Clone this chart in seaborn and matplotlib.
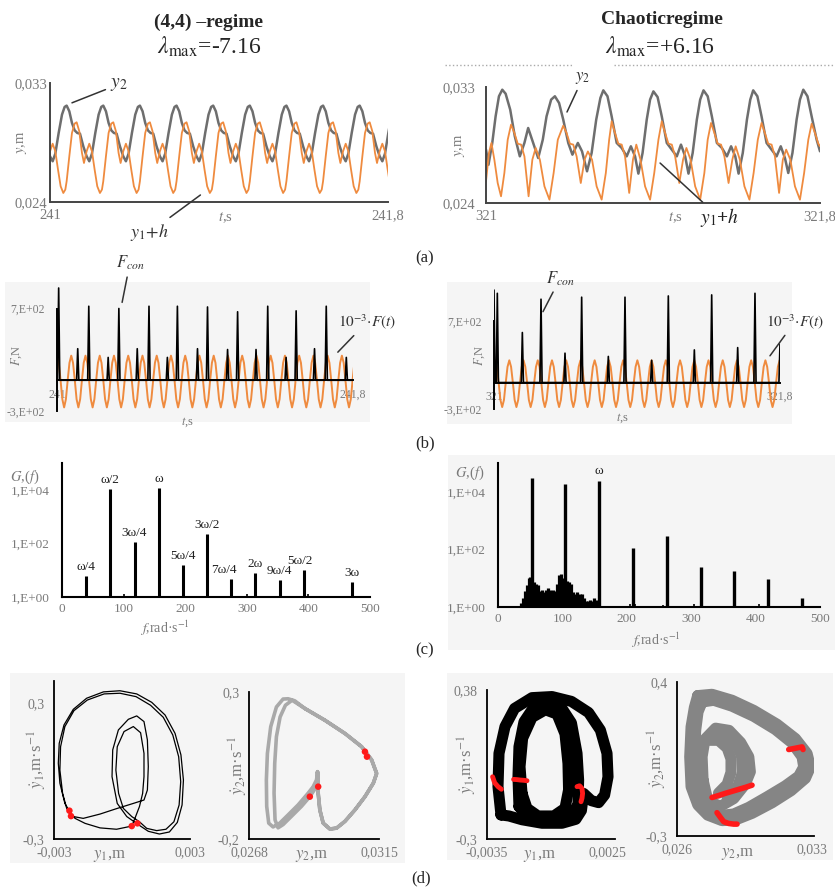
import numpy as np
import matplotlib
matplotlib.use("Agg")
import matplotlib.pyplot as plt
from matplotlib.lines import Line2D
from matplotlib.patches import Rectangle
from matplotlib.ticker import NullLocator
import seaborn as sns

sns.set_theme(style="white")
plt.rcParams["font.family"] = ["Liberation Serif", "DejaVu Serif"]
plt.rcParams["mathtext.fontset"] = "stix"

W, H = 835, 888
GREY = "#7a7a7a"
ORANGE = "#ef8b3f"
BOX = "#f5f5f5"

# %% (a) displacements --------------------------------------------------------
# (4,4) regime is periodic: one period, repeated
a4_t0 = 241.0394          # first maximum of y2
a4_period = 0.0867
a4_y2_phase = [0, .073, .145, .218, .291, .364, .455, .545, .618, .691, .782, .873, .945]
a4_y2 = [0.03129, 0.03086, 0.02998, 0.02942, 0.02922, 0.02917, 0.02821,
         0.02746, 0.02708, 0.02766, 0.02922, 0.03061, 0.03119]
a4_y1h_phase = [0, .073, .145, .218, .273, .345, .418, .473, .545, .618, .691,
                .764, .836, .909, .964]
a4_y1h = [0.02557, 0.02746, 0.02922, 0.02993, 0.03003, 0.02935, 0.02771, 0.02695,
          0.02783, 0.02841, 0.02783, 0.02645, 0.02519, 0.02468, 0.02494]

# chaotic regime
ch_t_y2 = [321.000, 321.006, 321.015, 321.023, 321.031,
           321.039, 321.047, 321.058, 321.069, 321.081, 321.092, 321.101, 321.113, 321.125, 321.136, 321.145, 321.156,
           321.165, 321.175, 321.185, 321.197, 321.207, 321.220, 321.230, 321.242, 321.253, 321.264, 321.274,
           321.281, 321.291, 321.301, 321.313, 321.325, 321.337, 321.347, 321.357, 321.365, 321.375, 321.385, 321.393,
           321.401, 321.411, 321.421, 321.433, 321.445, 321.457, 321.467, 321.477, 321.485, 321.495, 321.505, 321.513,
           321.521, 321.531, 321.541, 321.553, 321.565, 321.577, 321.587, 321.597, 321.605, 321.615, 321.625, 321.633,
           321.640, 321.650, 321.660, 321.672, 321.684, 321.696, 321.706, 321.716, 321.724, 321.734, 321.744, 321.752,
           321.760, 321.770, 321.780, 321.792, 321.800]
ch_y2 = [0.02814, 0.02697, 0.02866, 0.03072, 0.03228,
         0.03279, 0.03248, 0.03124, 0.02917, 0.02762, 0.02866, 0.02982, 0.02866, 0.02749, 0.02891, 0.03072, 0.03202,
         0.03228, 0.03176, 0.03047, 0.02866, 0.02775, 0.02866, 0.02801, 0.02646, 0.02788, 0.03047, 0.03215,
         0.03274, 0.03228, 0.03072, 0.02866, 0.02827, 0.02762, 0.02840, 0.02762, 0.02628, 0.02788, 0.03047, 0.03202,
         0.03266, 0.03222, 0.03072, 0.02866, 0.02814, 0.02762, 0.02853, 0.02762, 0.02628, 0.02788, 0.03047, 0.03202,
         0.03274, 0.03228, 0.03072, 0.02866, 0.02827, 0.02762, 0.02840, 0.02762, 0.02628, 0.02788, 0.03047, 0.03202,
         0.03274, 0.03228, 0.03072, 0.02866, 0.02814, 0.02762, 0.02840, 0.02749, 0.02633, 0.02788, 0.03047, 0.03202,
         0.03279, 0.03228, 0.03072, 0.02891, 0.02801]
ch_t_y1h = [321.000, 321.007, 321.013, 321.020, 321.028, 321.036, 321.044, 321.052,
            321.060, 321.068, 321.076, 321.084, 321.092, 321.102, 321.111, 321.119, 321.129, 321.140, 321.152, 321.162, 321.172,
            321.185, 321.193, 321.201, 321.209, 321.217, 321.227, 321.236, 321.244, 321.254, 321.265, 321.277, 321.287, 321.295,
            321.301, 321.309, 321.317, 321.325, 321.333, 321.343, 321.352, 321.360, 321.370, 321.381, 321.393, 321.403, 321.413,
            321.421, 321.429, 321.437, 321.445, 321.453, 321.463, 321.472, 321.480, 321.490, 321.501, 321.513, 321.523, 321.531,
            321.539, 321.547, 321.555, 321.563, 321.571, 321.581, 321.590, 321.598, 321.608, 321.619, 321.631, 321.641, 321.651,
            321.660, 321.668, 321.676, 321.684, 321.692, 321.702, 321.711, 321.719, 321.729, 321.740, 321.752, 321.762, 321.772,
            321.780, 321.788, 321.796, 321.800]
ch_y1h = [0.02568, 0.02788, 0.02866, 0.02736, 0.02555, 0.02452, 0.02633, 0.02891,
          0.03008, 0.02943, 0.02860, 0.02853, 0.02762, 0.02452, 0.02736, 0.02827, 0.02736, 0.02529, 0.02426, 0.02633, 0.02891,
          0.03000, 0.02943, 0.02860, 0.02853, 0.02762, 0.02555, 0.02736, 0.02800, 0.02736, 0.02529, 0.02426, 0.02633, 0.02891,
          0.03034, 0.02943, 0.02860, 0.02853, 0.02762, 0.02478, 0.02736, 0.02853, 0.02736, 0.02529, 0.02426, 0.02633, 0.02891,
          0.03034, 0.02943, 0.02860, 0.02853, 0.02762, 0.02555, 0.02736, 0.02827, 0.02736, 0.02529, 0.02426, 0.02633, 0.02891,
          0.03021, 0.02943, 0.02860, 0.02853, 0.02762, 0.02555, 0.02736, 0.02840, 0.02736, 0.02529, 0.02426, 0.02633, 0.02891,
          0.03021, 0.02943, 0.02860, 0.02853, 0.02762, 0.02478, 0.02736, 0.02814, 0.02736, 0.02529, 0.02426, 0.02633, 0.02891,
          0.03015, 0.02943, 0.02860, 0.02840]

# %% (b) forces ---------------------------------------------------------------
F_phase = [0, .125, .25, .375, .5, .625, .75, .875]
b4_F_t0, b4_F_period = 241.0, 0.0385
b4_F_cycle = [240, 170, 0, -185, -265, -185, 0, 170]          # 1e-3 F(t), N
b4_con_t = [241.0045, 241.0560, 241.0859, 241.1383, 241.1672, 241.2169, 241.2486, 241.2983,
            241.3254, 241.3797, 241.4068, 241.4610, 241.4881, 241.5379, 241.5695, 241.6192,
            241.6463, 241.6960, 241.7277, 241.7819]
b4_con_h = [900, 308, 722, 223, 700, 308, 722, 223, 722, 308, 715, 300, 668, 300, 722, 223,
            677, 308, 722, 223]

bch_F_t0, bch_F_period = 321.003, 0.0398
bch_F_cycle = [252, 178, 0, -197, -278, -197, 0, 178]
bch_con_t = [321.000, 321.0093, 321.0793, 321.1315, 321.1986, 321.2452, 321.3198, 321.3664,
             321.4410, 321.4876, 321.5604, 321.6089, 321.6816, 321.7300, 321.8000]
bch_con_h = [1048, 1011, 567, 944, 333, 967, 296, 967, 252, 981, 370, 993, 396, 1011, 437]

# %% (c) spectra --------------------------------------------------------------
c4_f = [39.25, 78.5, 117.75, 157, 196.25, 235.5, 274.75, 314, 353.25, 392.5, 471]
c4_g = [6, 11000, 115, 12000, 16, 230, 4.7, 8, 4.4, 10, 3.6]
c4_lab = ["ω/4", "ω/2", "3ω/4", "ω", "5ω/4", "3ω/2", "7ω/4", "2ω", "9ω/4", "5ω/2", "3ω"]
c4_small_f = [100, 300, 400]
c4_small_g = [1.25, 1.25, 1.25]

cch_f = [53, 104, 157, 210, 262, 315, 367, 419, 472]
cch_g = [30900, 19000, 24000, 112, 295, 24.5, 17.8, 9.3, 2.0]
cch_small_f = [205, 213, 256, 305, 405]
cch_small_g = [1.25, 1.3, 1.15, 1.3, 1.3]
cch_band_f = [36, 39, 42, 45, 48, 50, 56, 59, 62, 65, 68, 71, 74, 77, 80, 83, 86, 89, 92, 95, 98, 101,
              107, 110, 113, 116, 119, 122, 125, 128, 131, 134, 137, 140, 143, 146, 149, 152, 155]
cch_band_g = [1.4, 2.0, 3.5, 5.6, 10, 11, 7.1, 6.3, 5.6, 3.5, 4.0, 3.2, 4.0, 4.5, 4.0, 3.2, 4.0, 3.5, 6.3, 12.6, 14, 10,
              8, 7.1, 6.3, 3.2, 2.8, 3.2, 2.2, 2.8, 2.8, 2.0, 1.6, 1.6, 1.8, 1.6, 2.0, 1.8, 1.6]

# %% (d) phase portraits ------------------------------------------------------
d1_y1 = [-0.00222, -0.00252, -0.00274, -0.00281, -0.00277, -0.00256, -0.00215, -0.00156, -0.00082, -0.00009,
         0.00065, 0.00131, 0.00190, 0.00234, 0.00260, 0.00271, 0.00265, 0.00244, 0.00209, 0.00165, 0.00116, 0.00068,
         0.00021, -0.00021, -0.00044, -0.00041, -0.00016, 0.00028, 0.00065, 0.00097, 0.00112, 0.00116, 0.00112, 0.00097,
         0.00050, -0.00024, -0.00097, -0.00171, -0.00225,
         -0.00244, -0.00262, -0.00274, -0.00271, -0.00252, -0.00212, -0.00153, -0.00079, -0.00009, 0.00062, 0.00126,
         0.00182, 0.00224, 0.00250, 0.00259, 0.00252, 0.00229, 0.00194, 0.00153, 0.00109, 0.00077,
         0.00043, 0.00006, -0.00015, -0.00027, -0.00021, 0.00009, 0.00050, 0.00082, 0.00097, 0.00097, 0.00091, 0.00077,
         0.00057, 0.00043,
         -0.00024, -0.00097, -0.00163, -0.00207, -0.00222]
d1_v1 = [-0.194, -0.143, -0.054, 0.034, 0.122, 0.203, 0.272, 0.321, 0.349, 0.354,
         0.340, 0.303, 0.247, 0.166, 0.071, -0.040, -0.150, -0.227, -0.269, -0.278, -0.266, -0.234,
         -0.201, -0.143, -0.025, 0.093, 0.181, 0.228, 0.243, 0.218, 0.137, 0.019, -0.084, -0.128,
         -0.143, -0.166, -0.190, -0.209, -0.199,
         -0.165, -0.099, 0.004, 0.107, 0.196, 0.266, 0.313, 0.340, 0.343, 0.328, 0.290,
         0.237, 0.159, 0.063, -0.047, -0.150, -0.224, -0.257, -0.263, -0.253, -0.224,
         -0.201, -0.165, -0.099, 0.004, 0.107, 0.174, 0.196, 0.169, 0.078, -0.025, -0.099, -0.157,
         -0.209, -0.243,
         -0.257, -0.251, -0.231, -0.209, -0.194]
d1_dot_y1 = [-0.00232, -0.00225, 0.00043, 0.00068]
d1_dot_v1 = [-0.175, -0.199, -0.243, -0.231]

d2_y2 = [0.028818, 0.029543, 0.030268, 0.030872, 0.031234, 0.031415, 0.031295, 0.030992, 0.030630, 0.030268,
         0.029965, 0.029724, 0.029482, 0.029361, 0.029301, 0.029301, 0.029277, 0.029241, 0.029120, 0.028939,
         0.028576, 0.028214, 0.027912, 0.027670, 0.027513, 0.027440, 0.027428, 0.027465, 0.027585, 0.027791,
         0.028032, 0.028214, 0.028455,
         0.028818, 0.029543, 0.030268, 0.030872, 0.031234, 0.031415, 0.031295, 0.030992, 0.030630, 0.030268,
         0.029965, 0.029724, 0.029482, 0.029361, 0.029301, 0.029301, 0.029277, 0.029277, 0.029204, 0.028999,
         0.028697, 0.028334, 0.028032, 0.027851, 0.027742, 0.027706, 0.027730, 0.027791, 0.027924, 0.028117,
         0.028359, 0.028818]
d2_v2 = [0.244, 0.204, 0.159, 0.114, 0.069, 0.023, -0.010, -0.056, -0.101, -0.140,
         -0.163, -0.166, -0.146, -0.101, -0.044, 0.012, 0.029, 0.001, -0.022, -0.044,
         -0.084, -0.118, -0.146, -0.159, -0.146, -0.089, 0.001, 0.091, 0.182, 0.249,
         0.276, 0.277, 0.270,
         0.244, 0.204, 0.159, 0.114, 0.069, 0.023, -0.010, -0.056, -0.101, -0.140,
         -0.163, -0.166, -0.146, -0.101, -0.044, 0.012, 0.029, 0.001, -0.027, -0.056,
         -0.089, -0.123, -0.151, -0.162, -0.135, -0.044, 0.057, 0.148, 0.215, 0.255,
         0.272, 0.244]
d2_dot_y2 = [0.030992, 0.031065, 0.029301, 0.028999]
d2_dot_v2 = [0.097, 0.080, -0.022, -0.056]

# chaotic attractors, drawn as a few thick nested bands
d3_loop = [0] * 23 + [1] * 16 + [2] * 14
d3_y1 = [-0.00280, -0.00295, -0.00290, -0.00260, -0.00212, -0.00125, -0.00025, 0.00072, 0.00158, 0.00217, 0.00250,
         0.00255, 0.00238, 0.00208, 0.00172, 0.00133, 0.00122, 0.00094, 0.00025, -0.00075, -0.00175, -0.00240, -0.00280,
         -0.00190, -0.00195, -0.00190, -0.00165, -0.00117, -0.00050, 0.00022, 0.00072, 0.00100, 0.00108, 0.00105,
         0.00075, -0.00016, -0.00108, -0.00165, -0.00190,
         -0.00175, -0.00185, -0.00172, -0.00125, -0.00058, 0.00000, 0.00040, 0.00055, 0.00058, 0.00040, -0.00016,
         -0.00095, -0.00150, -0.00175]
d3_v1 = [-0.190, -0.061, 0.091, 0.213, 0.296, 0.345, 0.350, 0.328, 0.277, 0.197, 0.091,
         -0.016, -0.099, -0.134, -0.125, -0.092, -0.170, -0.210, -0.228, -0.228, -0.212, -0.195, -0.190,
         -0.152, -0.016, 0.121, 0.235, 0.300, 0.322, 0.300, 0.230, 0.091, -0.031, -0.140,
         -0.190, -0.205, -0.200, -0.180, -0.152,
         -0.092, 0.030, 0.160, 0.255, 0.290, 0.270, 0.180, 0.045, -0.076, -0.160, -0.195,
         -0.195, -0.160, -0.092]
d3_red_grp = [0] * 4 + [1] * 5 + [2] * 6
d3_red_y1 = [-0.00322, -0.00312, -0.00295, -0.00278, -0.00217, -0.00200, -0.00183, -0.00167, -0.00150,
             0.00100, 0.00113, 0.00125, 0.00128, 0.00125, 0.00120]
d3_red_v1 = [-0.016, -0.043, -0.061, -0.073, -0.028, -0.029, -0.031, -0.032, -0.034,
             -0.061, -0.057, -0.069, -0.092, -0.114, -0.130]

d4_loop = [0] * 21 + [1] * 21 + [2] * 13 + [3] * 7 + [4] * 7
d4_y2 = [0.027072, 0.027815, 0.028852, 0.029975, 0.031185, 0.032136, 0.032741, 0.032914, 0.032654, 0.031911,
         0.030926, 0.029889, 0.029025, 0.028333, 0.027590, 0.027080, 0.026730, 0.026660, 0.026730, 0.026900, 0.027072,
         0.027296, 0.027901, 0.028852, 0.029975, 0.031099, 0.031963, 0.032482, 0.032568, 0.032309, 0.031617,
         0.030667, 0.029716, 0.028938, 0.028333, 0.027763, 0.027210, 0.026951, 0.026899, 0.026968, 0.027089, 0.027296,
         0.027350, 0.027300, 0.027450, 0.028000, 0.028700, 0.029300, 0.029720, 0.029800, 0.029540, 0.028940,
         0.028250, 0.027600, 0.027350,
         0.027850, 0.028500, 0.029050, 0.029350, 0.029400, 0.029150, 0.028600,
         0.027700, 0.028150, 0.028600, 0.028800, 0.028800, 0.028600, 0.028150]
d4_v2 = [0.338, 0.344, 0.317, 0.271, 0.208, 0.143, 0.075, 0.014, -0.038, -0.094,
         -0.149, -0.197, -0.227, -0.230, -0.205, -0.159, -0.076, 0.060, 0.196, 0.284, 0.338,
         0.309, 0.317, 0.290, 0.244, 0.184, 0.123, 0.060, 0.014, -0.028, -0.072,
         -0.122, -0.170, -0.200, -0.206, -0.185, -0.144, -0.069, 0.060, 0.181, 0.264, 0.309,
         -0.046, 0.060, 0.140, 0.190, 0.180, 0.125, 0.060, -0.008, -0.064, -0.130,
         -0.165, -0.140, -0.046,
         0.170, 0.170, 0.125, 0.060, -0.010, -0.075, -0.125,
         0.135, 0.135, 0.100, 0.050, -0.010, -0.065, -0.105]
d4_red_grp = [0] * 6 + [1] * 7 + [2] * 6
d4_red_y2 = [0.031790, 0.031963, 0.032136, 0.032309, 0.032482, 0.032533,
             0.027815, 0.028160, 0.028506, 0.028852, 0.029198, 0.029543, 0.029889,
             0.028074, 0.028247, 0.028420, 0.028679, 0.028938, 0.029111]
d4_red_v2 = [0.093, 0.096, 0.099, 0.102, 0.105, 0.093,
             -0.125, -0.116, -0.106, -0.097, -0.088, -0.079, -0.069,
             -0.194, -0.215, -0.235, -0.243, -0.246, -0.246]


# %% helpers ------------------------------------------------------------------
def frame(l, t, r, b):
    return [l / W, 1 - b / H, (r - l) / W, (b - t) / H]


def ftext(x, y, s, **kw):
    fig.text(x / W, 1 - y / H, s, ha="center", va="center", **kw)


def repeat_cycle(t0, period, phase, values, first, last):
    t = np.concatenate([t0 + (k + np.asarray(phase)) * period for k in range(first, last)])
    return t, np.tile(values, last - first)


def spikes(t, h, t_start, t_end, w=0.003):
    xs, ys = [t_start], [0]
    for ti, hi in zip(t, h):
        xs += [ti - w, ti, ti + w]
        ys += [0, hi, 0]
    return xs + [t_end], ys + [0]


def style(ax, color="black", lw=1.3, size=10):
    ax.set_facecolor("none")
    ax.grid(False)
    for side in ("top", "right"):
        ax.spines[side].set_visible(False)
    for side in ("left", "bottom"):
        ax.spines[side].set_color(color)
        ax.spines[side].set_linewidth(lw)
    ax.tick_params(direction="in", length=4, width=lw, color=color,
                   labelcolor=GREY, labelsize=size)


def line(ax, x, y, **kw):
    sns.lineplot(x=x, y=y, ax=ax, sort=False, estimator=None, legend=False, **kw)


def labels(ax, xl, xpos, yl, ypos, size=10.5):
    ax.set_xlabel(xl, color=GREY, fontsize=size)
    ax.set_ylabel(yl, color=GREY, fontsize=size)
    ax.xaxis.set_label_coords(*xpos)
    ax.yaxis.set_label_coords(*ypos)
    ax.xaxis.label.set_va("center")
    ax.yaxis.label.set_va("center")


fig = plt.figure(figsize=(W / 100, H / 100), dpi=100)

for l, t, r, b in [(5, 282, 370, 422), (447, 282, 792, 424), (448, 455, 835, 650),
                   (10, 673, 405, 863), (447, 673, 833, 860)]:
    fig.add_artist(Rectangle((l / W, 1 - b / H), (r - l) / W, (b - t) / H,
                             transform=fig.transFigure, color=BOX, lw=0, zorder=-5))
for x0, x1 in [(445, 573), (614, 835)]:
    fig.add_artist(Line2D([x0 / W, x1 / W], [1 - 65 / H] * 2, transform=fig.transFigure,
                          color="#aaaaaa", ls=":", lw=1))

ftext(209, 22, "(4,4) –regime", fontsize=14, fontweight="bold")
ftext(209, 47, r"$\lambda_{\mathrm{max}}$=-7.16", fontsize=17)
ftext(662, 20, "Chaoticregime", fontsize=14, fontweight="bold")
ftext(660, 47, r"$\lambda_{\mathrm{max}}$=+6.16", fontsize=17)
for s, x, y in [("(a)", 425, 258), ("(b)", 425, 443), ("(c)", 425, 650), ("(d)", 421, 878)]:
    ftext(x, y, s, fontsize=12)

ann_line = dict(arrowstyle="-", color="#333333", lw=1.1, shrinkA=1, shrinkB=0)

# %% row (a) ------------------------------------------------------------------
ax = fig.add_axes(frame(50, 83, 388, 202))
t, v = repeat_cycle(a4_t0, a4_period, a4_y2_phase, a4_y2, -1, 10)
line(ax, t, v, color="#6e6e6e", linewidth=1.8)
t, v = repeat_cycle(a4_t0, a4_period, a4_y1h_phase, a4_y1h, -1, 10)
line(ax, t, v, color=ORANGE, linewidth=1.3)
ax.set_xlim(241, 241.8)
ax.set_ylim(0.024, 0.033)
ax.set_xticks([241, 241.8], ["241", "241,8"])
ax.set_yticks([0.024, 0.033], ["0,024", "0,033"])
style(ax, color="#444444", lw=1.4, size=10.5)
ax.tick_params(axis="x", pad=5)
ax.tick_params(axis="y", pad=2)
labels(ax, r"$t$,s", (0.518, -0.134), r"$y$,m", (-0.083, 0.5))
ax.annotate(r"$y_2$", xy=(241.052, 0.0315), xytext=(241.163, 0.0329), fontsize=14,
            color="#333333", ha="center", va="center", arrowprops=ann_line, annotation_clip=False)
ax.annotate(r"$y_1\!+\!h$", xy=(241.356, 0.02453), xytext=(241.237, 0.02173), fontsize=13,
            color="#333333", ha="center", va="center", arrowprops=ann_line, annotation_clip=False)

ax = fig.add_axes(frame(486, 87, 820, 203))
line(ax, ch_t_y2, ch_y2, color="#6e6e6e", linewidth=1.8)
line(ax, ch_t_y1h, ch_y1h, color=ORANGE, linewidth=1.3)
ax.set_xlim(321, 321.8)
ax.set_ylim(0.024, 0.033)
ax.set_xticks([321, 321.8], ["321", "321,8"])
ax.set_yticks([0.024, 0.033], ["0,024", "0,033"])
style(ax, color="#444444", lw=1.4, size=10.5)
ax.tick_params(axis="x", pad=5)
ax.tick_params(axis="y", pad=8)
labels(ax, r"$t$,s", (0.566, -0.13), r"$y$,m", (-0.078, 0.5))
ax.annotate(r"$y_2$", xy=(321.194, 0.03106), xytext=(321.232, 0.0337), fontsize=12,
            color="#333333", ha="center", va="center", arrowprops=ann_line, annotation_clip=False)
ax.annotate(r"$y_1$+$h$", xy=(321.417, 0.0271), xytext=(321.560, 0.02284), fontsize=14,
            color="#222222", ha="center", va="center", fontweight="bold",
            arrowprops=ann_line, annotation_clip=False)

# %% row (b) ------------------------------------------------------------------
panels_b = [
    (frame(57, 287, 353, 411), b4_F_t0, b4_F_period, b4_F_cycle, b4_con_t, b4_con_h,
     (241, 241.8), ["241", "241,8"], 910, (0.44, -0.09), (-0.135, 0.45),
     ((241.176, 760), (241.197, 1142)), ((241.759, 274), (241.838, 570)), 21),
    (frame(494, 289, 780, 409), bch_F_t0, bch_F_period, bch_F_cycle, bch_con_t, bch_con_h,
     (321, 321.8), ["321", "321,8"], 1060, (0.45, -0.075), (-0.05, 0.45),
     ((321.137, 803), (321.185, 1181)), ((321.772, 303), (321.842, 692)), 21),
]
for rect, f0, fp, fc, ct, chh, xl, xtl, ytop, xlab, ylab, a_con, a_F, ncyc in panels_b:
    ax = fig.add_axes(rect)
    t, v = repeat_cycle(f0, fp, F_phase, fc, -1, ncyc + 1)
    line(ax, t, v, color=ORANGE, linewidth=1.4)
    xs, ys = spikes(ct, chh, xl[0] - 0.005, xl[1] + 0.005)
    line(ax, xs, ys, color="black", linewidth=1.2)
    ax.set_xlim(*xl)
    ax.set_ylim(-300, ytop)
    ax.set_xticks(list(xl), xtl)
    ax.set_yticks([-300, 700], ["-3,E+02", "7,E+02"])
    style(ax, lw=1.4, size=8.5)
    ax.spines["left"].set_bounds(-300, 700)
    ax.spines["bottom"].set_position(("data", 0))
    ax.tick_params(axis="x", length=0, pad=6)
    ax.tick_params(axis="y", length=5, pad=9)
    labels(ax, r"$t$,s", xlab, r"$F$,N", ylab, size=9)
    ax.annotate(r"$F_{con}$", xy=a_con[0], xytext=a_con[1], fontsize=12, color="#333333",
                ha="center", va="center", arrowprops=ann_line, annotation_clip=False)
    ax.annotate(r"$10^{-3}{\cdot}F(t)$", xy=a_F[0], xytext=a_F[1], fontsize=11, color="#333333",
                ha="center", va="center", arrowprops=ann_line, annotation_clip=False)

# %% row (c) ------------------------------------------------------------------
nudge = {"7ω/4": -5, "5ω/2": -3}
ax = fig.add_axes(frame(62, 463, 370, 597))
ax.vlines(c4_small_f, 1, c4_small_g, color="black", lw=1.2)
ax.vlines(c4_f, 1, c4_g, color="black", lw=2.2)
for f, g, s in zip(c4_f, c4_g, c4_lab):
    ax.annotate(s, xy=(f, g), xytext=(nudge.get(s, 0), 2), textcoords="offset points",
                ha="center", va="bottom", fontsize=9.5, color="#222222")

ax2 = fig.add_axes(frame(498, 463, 820, 607))
ax2.vlines(cch_band_f, 1, cch_band_g, color="black", lw=2.3)
ax2.vlines(cch_small_f, 1, cch_small_g, color="black", lw=1.2)
ax2.vlines(cch_f, 1, cch_g, color="black", lw=2.4)
ax2.annotate("ω", xy=(cch_f[2], cch_g[2]), xytext=(0, 3), textcoords="offset points",
             ha="center", va="bottom", fontsize=9.5, color="#222222")

for a, xlab, ylab in [(ax, (0.334, -0.23), (-0.12, 0.89)), (ax2, (0.49, -0.23), (-0.087, 0.93))]:
    a.set_yscale("log")
    a.set_ylim(1, 1e5)
    a.set_xlim(0, 500)
    a.set_yticks([1, 1e2, 1e4], ["1,E+00", "1,E+02", "1,E+04"])
    a.yaxis.set_minor_locator(NullLocator())
    a.set_xticks([0, 100, 200, 300, 400, 500], ["0", "100", "200", "300", "400", "500"])
    style(a, lw=1.5, size=9.5)
    a.tick_params(axis="x", length=0, pad=4)
    a.tick_params(axis="y", length=3, direction="out", pad=6)
    a.set_xlabel(r"$f$,rad·s$^{-1}$", color=GREY, fontsize=10)
    a.xaxis.set_label_coords(*xlab)
    a.xaxis.label.set_va("center")
    a.text(ylab[0], ylab[1], r"$G$,($f$)", transform=a.transAxes, ha="center", va="center",
           color=GREY, fontsize=10.5)

# %% row (d) ------------------------------------------------------------------
ax = fig.add_axes(frame(54, 681, 190, 839))
line(ax, d1_y1, d1_v1, color="black", linewidth=0.9)
sns.scatterplot(x=d1_dot_y1, y=d1_dot_v1, ax=ax, color="#ff1a1a", s=22, edgecolor="none", zorder=3)
ax.set_xlim(-0.003, 0.003)
ax.set_ylim(-0.3, 0.397)
ax.set_xticks([-0.003, 0.003], ["-0,003", "0,003"])
ax.set_yticks([-0.3, 0.3], ["-0,3", "0,3"])
d_axes = [(ax, (0.41, -0.108), r"$y_1$,m", (-0.125, 0.5), r"$\dot{y}_1$,m·s$^{-1}$")]

ax = fig.add_axes(frame(249, 692, 379, 839))
line(ax, d2_y2, d2_v2, color="#a9a9a9", linewidth=2.6)
sns.scatterplot(x=d2_dot_y2, y=d2_dot_v2, ax=ax, color="#ff1a1a", s=22, edgecolor="none", zorder=3)
ax.set_xlim(0.0268, 0.0315)
ax.set_ylim(-0.2, 0.3)
ax.set_xticks([0.0268, 0.0315], ["0,0268", "0,0315"])
ax.set_yticks([-0.2, 0.3], ["-0,2", "0,3"])
d_axes.append((ax, (0.48, -0.116), r"$y_2$,m", (-0.085, 0.5), r"$\dot{y}_2$,m·s$^{-1}$"))

ax = fig.add_axes(frame(487, 690, 615, 839))
sns.lineplot(x=d3_y1, y=d3_v1, units=d3_loop, ax=ax, sort=False, estimator=None, legend=False,
             color="black", linewidth=8)
sns.lineplot(x=d3_red_y1, y=d3_red_v1, units=d3_red_grp, ax=ax, sort=False, estimator=None,
             legend=False, color="#ff1a1a", linewidth=3.5)
ax.set_xlim(-0.0035, 0.0029)
ax.set_ylim(-0.3, 0.38)
ax.set_xticks([-0.0035, 0.0025], ["-0,0035", "0,0025"])
ax.set_yticks([-0.3, 0.38], ["-0,3", "0,38"])
d_axes.append((ax, (0.41, -0.114), r"$y_1$,m", (-0.15, 0.5), r"$\dot{y}_1$,m·s$^{-1}$"))

ax = fig.add_axes(frame(677, 682, 814, 836))
sns.lineplot(x=d4_y2, y=d4_v2, units=d4_loop, ax=ax, sort=False, estimator=None, legend=False,
             color="#858585", linewidth=8)
sns.lineplot(x=d4_red_y2, y=d4_red_v2, units=d4_red_grp, ax=ax, sort=False, estimator=None,
             legend=False, color="#ff1a1a", linewidth=4)
ax.set_xlim(0.026, 0.0331)
ax.set_ylim(-0.3, 0.4)
ax.set_xticks([0.026, 0.033], ["0,026", "0,033"])
ax.set_yticks([-0.3, 0.4], ["-0,3", "0,4"])
d_axes.append((ax, (0.44, -0.12), r"$y_2$,m", (-0.14, 0.5), r"$\dot{y}_2$,m·s$^{-1}$"))

for ax, xpos, xl, ypos, yl in d_axes:
    style(ax, lw=1.3, size=10)
    ax.tick_params(axis="x", pad=5)
    ax.tick_params(axis="y", pad=7)
    ax.set_xlabel(xl, color=GREY, fontsize=12)
    ax.set_ylabel(yl, color=GREY, fontsize=12)
    ax.xaxis.set_label_coords(*xpos)
    ax.yaxis.set_label_coords(*ypos)
    ax.xaxis.label.set_va("center")
    ax.yaxis.label.set_va("center")

fig.savefig("out.png", dpi=100)
